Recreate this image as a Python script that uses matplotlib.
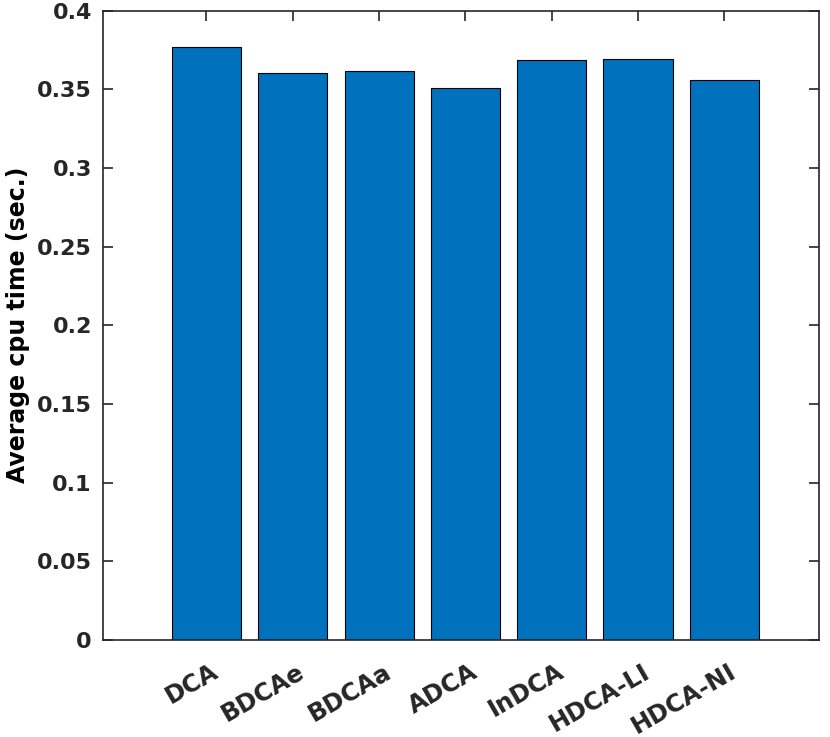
import matplotlib
matplotlib.use('Agg')
import matplotlib.pyplot as plt
import matplotlib.transforms as mtransforms
import numpy as np

methods = ['DCA', 'BDCAe', 'BDCAa', 'ADCA', 'InDCA', 'HDCA-LI', 'HDCA-NI']
cpu_time = [0.3771, 0.3606, 0.3619, 0.3511, 0.3689, 0.3695, 0.3556]
yticks = [0, 0.05, 0.1, 0.15, 0.2, 0.25, 0.3, 0.35, 0.4]
ytick_labels = ['0', '0.05', '0.1', '0.15', '0.2', '0.25', '0.3', '0.35', '0.4']

plt.rcParams['font.family'] = ['DejaVu Sans']
plt.rcParams['font.weight'] = 'bold'

fig = plt.figure(figsize=(8.3, 7.37), dpi=100)
ax = fig.add_axes([0.124, 0.1316, 0.863, 0.854])

x = np.arange(1, len(methods) + 1)
ax.bar(x, cpu_time, width=0.8, color='#0072BD', edgecolor='black', linewidth=0.8, zorder=2)

ax.set_xlim(-0.2, 8.1)
ax.set_ylim(0, 0.4)
ax.set_xticks(x)
ax.set_xticklabels(methods, rotation=30, ha='right', va='top', rotation_mode='anchor',
                   fontsize=17.5, fontweight='bold')
ax.set_yticks(yticks)
ax.set_yticklabels(ytick_labels, fontsize=16, fontweight='bold')
ax.set_ylabel('Average cpu time (sec.)', fontsize=17, fontweight='bold', labelpad=5)

ax.tick_params(direction='in', top=True, right=True, length=7, width=1.2, color='#262626', labelcolor='#262626')
ax.tick_params(axis='x', pad=14)
ax.tick_params(axis='y', pad=8)
for s in ax.spines.values():
    s.set_color('#262626')
    s.set_linewidth(1.2)

# nudge rotated labels slightly right, like matlab
off = mtransforms.ScaledTranslation(0.04, 0, fig.dpi_scale_trans)
for lbl in ax.get_xticklabels():
    lbl.set_transform(lbl.get_transform() + off)

plt.savefig('out.png')
